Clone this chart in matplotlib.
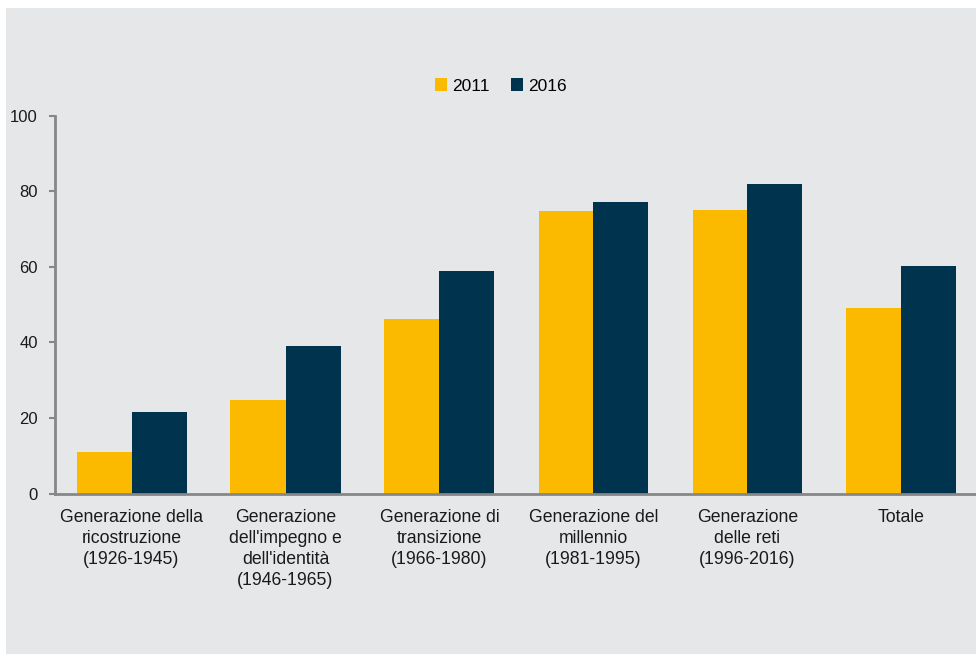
import matplotlib
matplotlib.use("Agg")
import matplotlib.pyplot as plt
from matplotlib.patches import Rectangle
import numpy as np

plt.rcParams['font.family'] = ['Liberation Sans', 'DejaVu Sans']

categories = [
    "Generazione della\nricostruzione\n(1926-1945)",
    "Generazione\ndell'impegno e\ndell'identità\n(1946-1965)",
    "Generazione di\ntransizione\n(1966-1980)",
    "Generazione del\nmillennio\n(1981-1995)",
    "Generazione\ndelle reti\n(1996-2016)",
    "Totale",
]
values_2011 = [11.0, 24.7, 46.2, 74.7, 75.0, 49.1]
values_2016 = [21.5, 39.0, 58.8, 77.1, 82.0, 60.1]
series_labels = ["2011", "2016"]

c_2011 = "#FBBA00"
c_2016 = "#00334E"
bg = "#E6E7E8"
axis_col = "#878787"

fig = plt.figure(figsize=(9.76, 6.54), dpi=100)
fig.patch.set_facecolor("white")
# grey panel behind the chart
fig.patches.append(Rectangle((6 / 976, 0), 1, 1 - 8 / 654, transform=fig.transFigure,
                             facecolor=bg, edgecolor="none", zorder=-10))

ax = fig.add_axes([54.5 / 976, 160.3 / 654, 924 / 976, 378.2 / 654])
ax.set_facecolor("none")

x = np.arange(len(categories))
w = 55 / 154
ax.bar(x - w / 2, values_2011, width=w, color=c_2011, label=series_labels[0])
ax.bar(x + w / 2, values_2016, width=w, color=c_2016, label=series_labels[1])

ax.set_xlim(-0.5, len(categories) - 0.5)
ax.set_ylim(0, 100)
ax.set_yticks(range(0, 101, 20))
ax.set_xticks(x)
ax.set_xticklabels(categories, fontsize=12.7, color="#1a1a1a", linespacing=1.3)
ax.tick_params(axis="x", length=0, pad=11)
ax.tick_params(axis="y", length=4, width=1.5, color=axis_col, pad=8,
               labelsize=12, labelcolor="#1a1a1a")

for s in ["top", "right"]:
    ax.spines[s].set_visible(False)
for s in ["left", "bottom"]:
    ax.spines[s].set_color(axis_col)
    ax.spines[s].set_linewidth(2)

leg = fig.legend(loc="center", bbox_to_anchor=(501 / 976, 1 - 86 / 654), ncol=2,
                 frameon=False, fontsize=12.5, handlelength=0.7, handleheight=0.7,
                 handletextpad=0.3, columnspacing=1.2)

fig.savefig("out.png", dpi=100)
